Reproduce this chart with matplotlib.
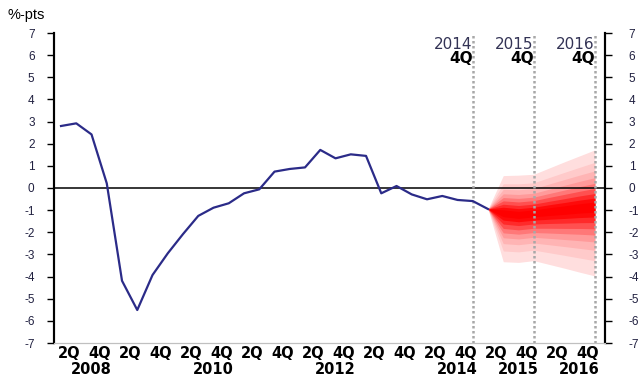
import numpy as np
import matplotlib
matplotlib.use('Agg')
import matplotlib.pyplot as plt
import matplotlib.transforms as mtransforms

plt.rcParams['axes.unicode_minus'] = False

# quarterly axis 2008Q1 .. 2016Q4
years = list(range(2008, 2017))
quarters = [(y, q) for y in years for q in (1, 2, 3, 4)]

# outcome 2008Q1 .. 2015Q1
hist = [2.80, 2.92, 2.42, 0.21, -4.19, -5.51, -3.93, -2.95,
        -2.08, -1.26, -0.89, -0.69, -0.24, -0.06, 0.74, 0.86,
        0.93, 1.72, 1.34, 1.52, 1.45, -0.24, 0.09, -0.29,
        -0.51, -0.36, -0.54, -0.59, -0.95]

# forecast 2015Q1 .. 2016Q4 (median, outer band top / bottom)
fc_mid = [-0.95, -1.12, -1.20, -1.13, -1.05, -0.98, -0.90, -0.84]
fc_hi = [-0.95, 0.56, 0.58, 0.62, 0.90, 1.18, 1.45, 1.72]
fc_lo = [-0.95, -3.33, -3.36, -3.28, -3.45, -3.62, -3.80, -3.97]
band_frac = [0.08, 0.15, 0.23, 0.32, 0.41, 0.51, 0.63, 0.78, 1.0]
band_colors = ['#ff0000', '#ff0a0a', '#ff2a2a', '#ff5050', '#ff7878',
               '#ff9a9a', '#ffb4b4', '#ffcaca', '#ffdede']

year_labels = [2008, 2010, 2012, 2014, 2015, 2016]
vline_years = [2014, 2015, 2016]

fig = plt.figure(figsize=(6.43, 3.75), dpi=100)
ax = fig.add_axes([54/643, 32/375, 551/643, 310/375])

idx = np.arange(len(quarters))
x_hist = idx[:len(hist)]
x_fc = idx[len(hist)-1:len(hist)-1+len(fc_mid)]

mid = np.array(fc_mid)
hi = np.array(fc_hi)
lo = np.array(fc_lo)
for f, c in reversed(list(zip(band_frac, band_colors))):
    ax.fill_between(x_fc, mid - f*(mid - lo), mid + f*(hi - mid),
                    color=c, lw=0, zorder=1)

ax.plot(x_hist, hist, color='#2b2b88', lw=1.6, zorder=4)
ax.axhline(0, color='black', lw=1.1, zorder=3)

# dotted vertical lines + labels
def qpos(y, q):
    return quarters.index((y, q))

for y in vline_years:
    xp = qpos(y, 4)
    ax.axvline(xp, color='#a8a8a8', lw=1.8, ls=(0, (1, 1)), zorder=3)
    ax.text(xp, 0.962, str(y), transform=ax.get_xaxis_transform(),
            ha='right', va='center', fontsize=11, color='#333355')
    ax.text(xp, 0.918, '4Q', transform=ax.get_xaxis_transform(),
            ha='right', va='center', fontsize=11, fontweight='bold')

ax.set_xlim(-0.46, 35.67)
ax.set_ylim(-7, 7)

# x tick labels
tpos = [i for i, (y, q) in enumerate(quarters) if q in (2, 4)]
tlab = ['%dQ' % quarters[i][1] for i in tpos]
ax.set_xticks(tpos)
ax.set_xticklabels(tlab, fontsize=10.5, fontweight='bold')
ax.tick_params(axis='x', length=0, pad=2)
shift = mtransforms.ScaledTranslation(-7/100, 0, fig.dpi_scale_trans)
for lbl in ax.get_xticklabels():
    lbl.set_transform(lbl.get_transform() + shift)

for y in year_labels:
    ax.text(qpos(y, 3), -0.0985, str(y), transform=ax.get_xaxis_transform(),
            ha='center', va='baseline', fontsize=10.5, fontweight='bold')

yt = list(range(-7, 8))
ax.set_yticks(yt)
ax.set_yticklabels([str(v) for v in yt], fontsize=8.5, family='Liberation Sans',
                   color='#202040')
ax.tick_params(axis='y', direction='out', length=5, width=1, pad=9)

ax2 = ax.twinx()
ax2.set_ylim(-7, 7)
ax2.set_yticks(yt)
ax2.set_yticklabels([str(v) for v in yt], fontsize=8.5, family='Liberation Sans',
                    color='#202040')
ax2.tick_params(axis='y', direction='out', length=5, width=1, pad=12)

for a in (ax, ax2):
    a.spines['top'].set_visible(False)
    a.spines['left'].set_linewidth(1.5)
    a.spines['right'].set_linewidth(1.5)
    a.spines['bottom'].set_color('#c0c0c0')

fig.text(8/643, 1 - 15/375, '%-pts', ha='left', va='center', fontsize=10.5,
         family='Liberation Sans')

fig.savefig('out.png', dpi=100)
